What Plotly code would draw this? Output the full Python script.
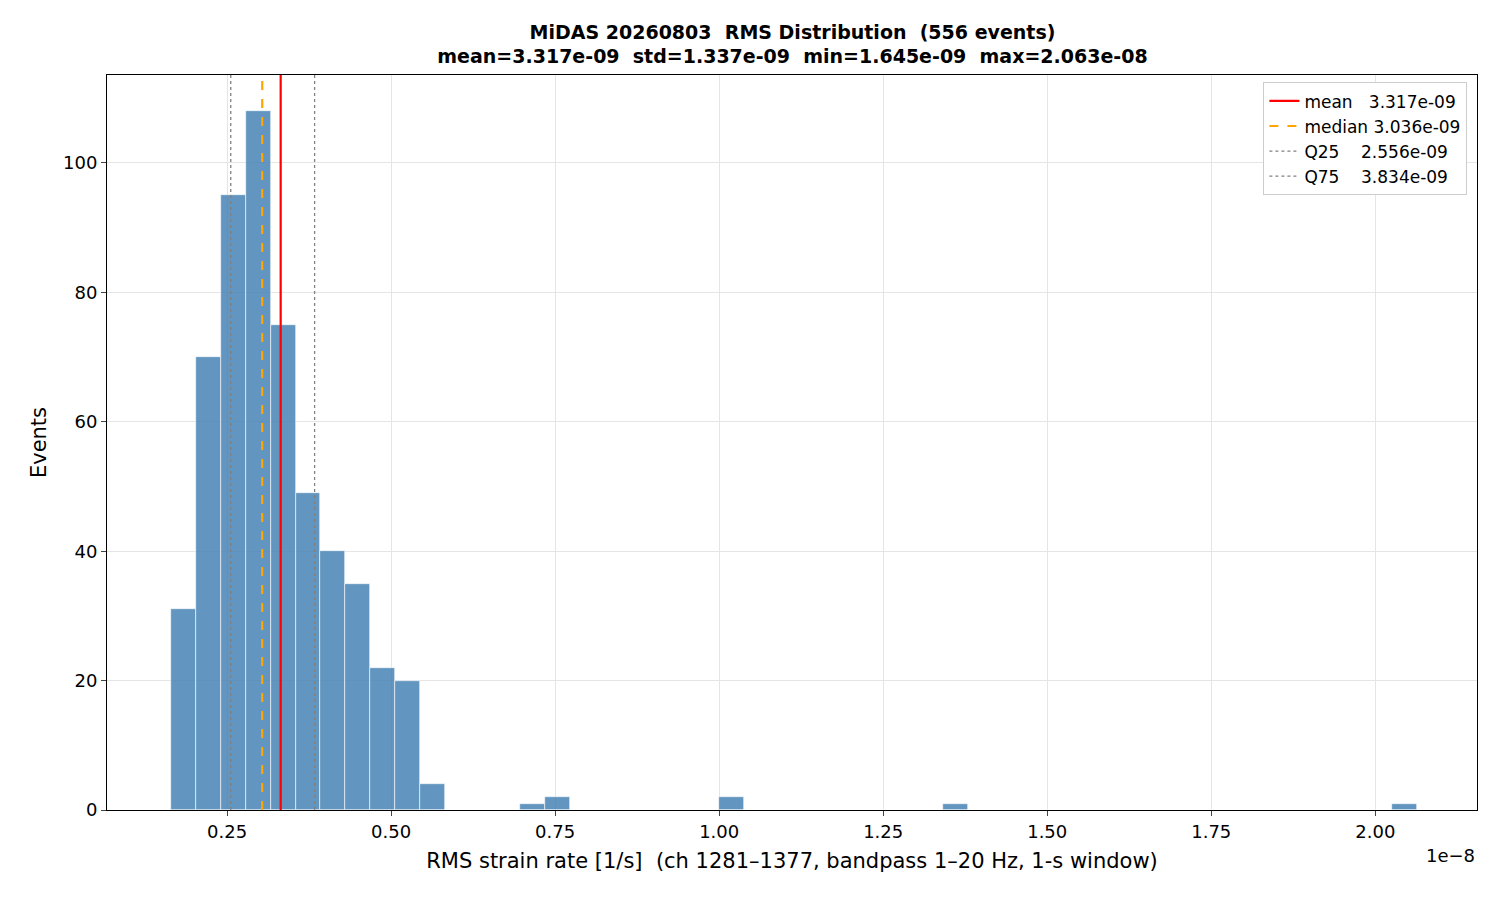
import numpy as np
import plotly.graph_objects as go

# histogram: 50 bins between min and max (units of 1e-8)
rms_min = 0.1645
rms_max = 2.063
counts = [31, 70, 95, 108, 75, 49, 40, 35, 22, 20,
          4, 0, 0, 0, 1, 2, 0, 0, 0, 0,
          0, 0, 2, 0, 0, 0, 0, 0, 0, 0,
          0, 1, 0, 0, 0, 0, 0, 0, 0, 0,
          0, 0, 0, 0, 0, 0, 0, 0, 0, 1]
stats = {"mean": 0.3317, "median": 0.3036, "Q25": 0.2556, "Q75": 0.3834}
tick_vals = [0.25, 0.5, 0.75, 1.0, 1.25, 1.5, 1.75, 2.0]

edges = np.linspace(rms_min, rms_max, len(counts) + 1)
centers = (edges[:-1] + edges[1:]) / 2
width = edges[1] - edges[0]

fig = go.Figure()
fig.add_trace(go.Bar(x=centers, y=counts, width=width, showlegend=False,
                     marker=dict(color="rgba(70,130,180,0.85)", line=dict(color="white", width=0.6))))

styles = [("mean", "mean   3.317e-09", dict(color="red", width=2.2, dash="solid")),
          ("median", "median 3.036e-09", dict(color="orange", width=2.2, dash="dash")),
          ("Q25", "Q25    2.556e-09", dict(color="gray", width=1.3, dash="dot")),
          ("Q75", "Q75    3.834e-09", dict(color="gray", width=1.3, dash="dot"))]
for key, label, line in styles:
    v = stats[key]
    fig.add_trace(go.Scatter(x=[v, v], y=[0, 120], mode="lines", line=line, name=label))

fig.update_layout(
    width=1500, height=900, plot_bgcolor="white", paper_bgcolor="white",
    font=dict(family="DejaVu Sans", size=18, color="black"),
    margin=dict(l=99, r=31, t=67, b=98),
    bargap=0,
    title=dict(text="<b>MiDAS 20260803  RMS Distribution  (556 events)<br>mean=3.317e-09  std=1.337e-09  min=1.645e-09  max=2.063e-08</b>",
               x=0.523, xanchor="center", y=0.966, yanchor="top", font=dict(size=19)),
    legend=dict(x=0.993, y=0.99, xanchor="right", yanchor="top", bgcolor="white",
                bordercolor="#cccccc", borderwidth=1, font=dict(size=17)),
)
fig.update_xaxes(range=[0.067, 2.155], tickvals=tick_vals, ticktext=[f"{t:.2f}" for t in tick_vals],
                 showgrid=True, gridcolor="#e5e5e5", showline=True, linecolor="black", mirror=True,
                 ticks="outside", zeroline=False, tickfont=dict(size=18),
                 title=dict(text="RMS strain rate [1/s]  (ch 1281–1377, bandpass 1–20 Hz, 1-s window)",
                            standoff=12, font=dict(size=21)))
fig.update_yaxes(range=[0, 113.6], tickvals=[0, 20, 40, 60, 80, 100], showgrid=True, gridcolor="#e5e5e5",
                 showline=True, linecolor="black", mirror=True, ticks="outside", zeroline=False,
                 tickfont=dict(size=18), title=dict(text="Events", standoff=10, font=dict(size=21)))
fig.add_annotation(text="1e−8", xref="paper", yref="paper", x=1.0, y=-0.045, showarrow=False,
                   xanchor="right", yanchor="top", font=dict(size=18))

fig.write_html("out.html")
